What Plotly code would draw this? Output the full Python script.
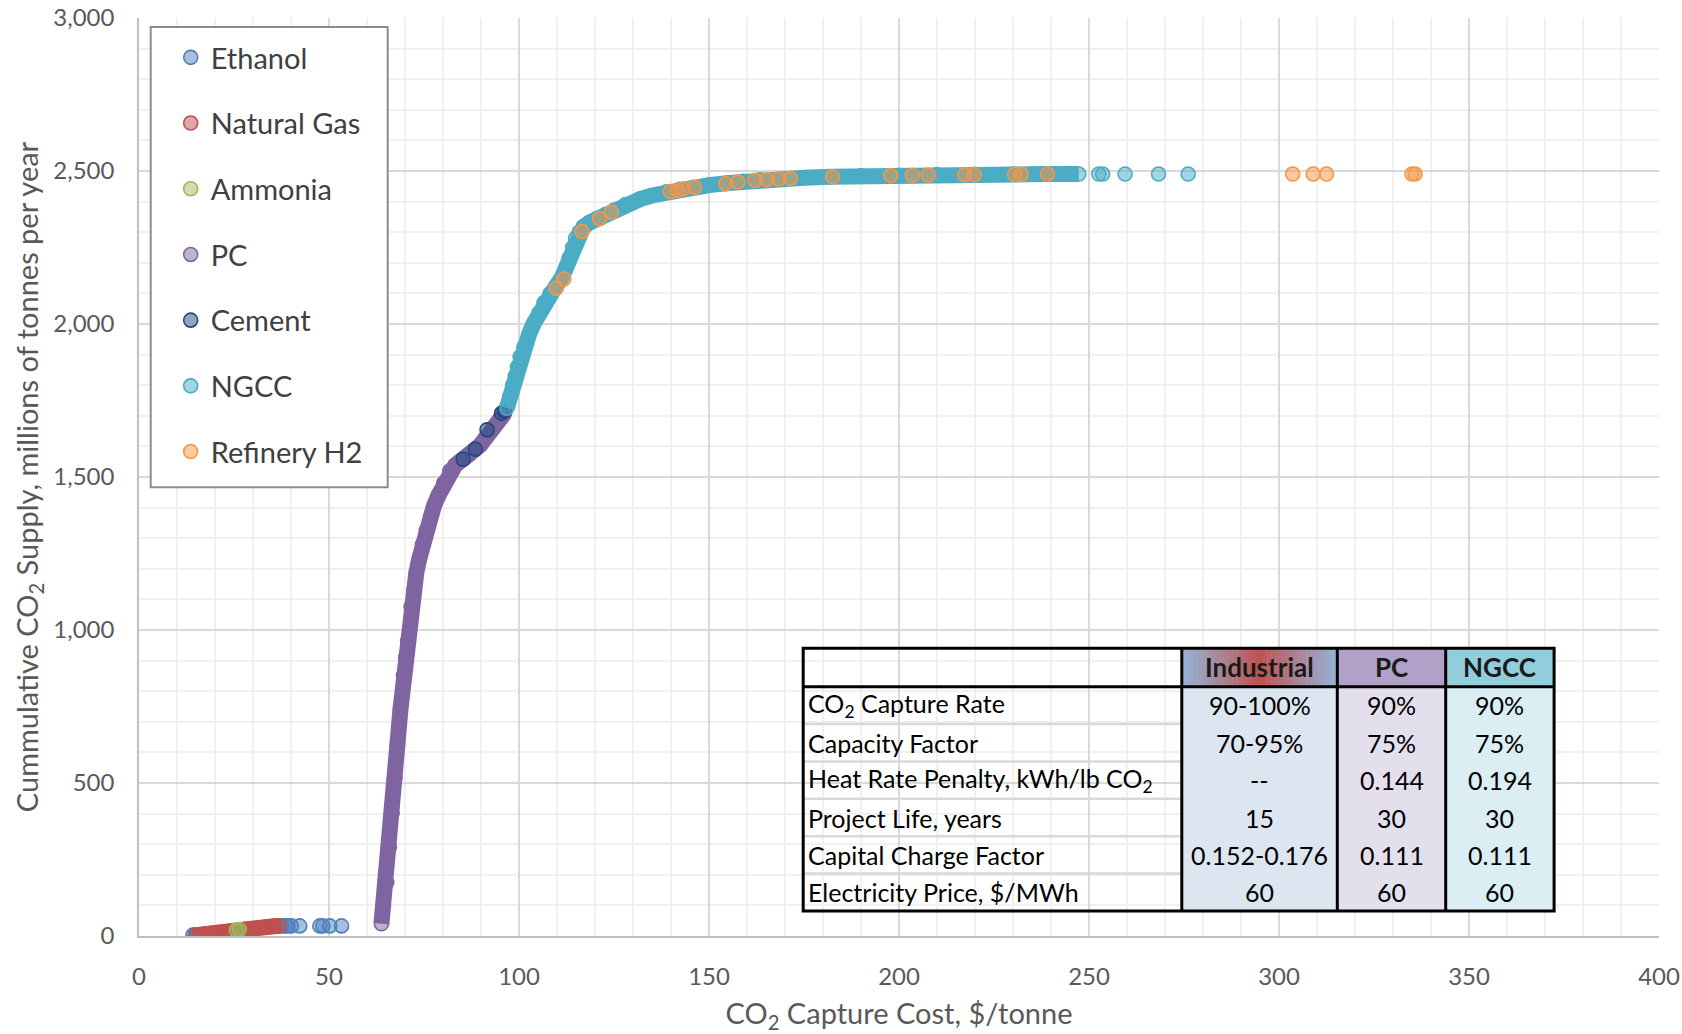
import plotly.graph_objects as go

# ---------------- data ----------------
eth_x = [14.2, 14.8, 15.4, 33.5, 35.0, 36.5, 37.5, 38.5, 39.2, 40.1, 42.3, 47.6, 48.4, 50.2, 53.3]
eth_y = [3, 4, 4, 29, 31, 32, 33, 33, 33, 33, 33, 33, 33, 33, 33]

ng_x = [15.0, 16.0, 17.5, 19.0, 20.5, 22.0, 23.5, 25.0, 26.5, 28.0, 29.5, 31.0, 32.5, 34.0, 35.5, 37.0]
ng_y = [3, 5, 7, 9, 11, 13, 15, 18, 20, 22, 24, 26, 28, 30, 32, 33]

amm_x = [25.6, 26.4]
amm_y = [19, 21]

pc_x = [63.8, 64.3, 65.2, 65.9, 66.6, 67.3, 68.0, 68.8, 69.6, 70.2, 70.7, 71.6, 72.3, 73.0, 73.8,
        74.6, 75.6, 76.7, 77.6, 78.8, 80.2, 81.8, 83.2, 84.6, 85.8, 87.0, 88.3, 89.8, 91.4, 93.2,
        95.0, 96.2]
pc_y = [40, 100, 175, 290, 401, 515, 626, 740, 851, 910, 964, 1076, 1130, 1189, 1235,
        1279, 1325, 1369, 1405, 1440, 1480, 1520, 1538, 1552, 1562, 1574, 1588, 1604, 1630, 1660,
        1690, 1708]

cem_x = [85.3, 88.5, 91.6, 95.4, 96.2]
cem_y = [1558, 1591, 1654, 1708, 1716]

ngcc_x = [96.8, 97.6, 98.3, 99.0, 99.6, 100.3, 101.3, 102.6, 103.8, 105.2, 106.6, 108.2, 109.8,
          111.2, 112.3, 113.2, 114.1, 114.9, 115.8, 117.0, 118.6, 120.5, 122.8, 125.0, 128.0,
          131.8, 135.0, 138.8, 142.3, 145.8, 150.0, 154.6, 159.0, 163.3, 168.6, 175.0, 182.0,
          190.0, 200.0, 210.0, 220.0, 230.0, 238.0, 244.0, 247.3]
ngcc_y = [1725, 1765, 1800, 1830, 1860, 1893, 1925, 1965, 2000, 2035, 2070, 2100, 2125,
          2150, 2180, 2215, 2250, 2280, 2300, 2318, 2332, 2345, 2358, 2372, 2390,
          2408, 2420, 2432, 2440, 2447, 2454, 2460, 2466, 2471, 2474, 2478, 2481,
          2484, 2486, 2488, 2489, 2490, 2490, 2490, 2490]
ngcc_tail_x = [252.6, 253.6, 259.5, 268.3, 276.1]
ngcc_tail_y = [2490, 2490, 2490, 2490, 2490]

ref_x = [109.8, 111.8, 116.6, 121.2, 124.3, 139.8, 141.8, 143.2, 146.2, 154.4, 157.6, 162.1, 165.2,
         168.3, 171.4, 182.5, 197.8, 203.5, 207.7, 217.3, 219.8, 230.4, 232.2, 239.1, 303.6,
         309.0, 312.5, 335.0, 335.8]
ref_y = [2117, 2147, 2302, 2344, 2366, 2433, 2436, 2441, 2447, 2458, 2464, 2470, 2472,
         2474, 2476, 2481, 2485, 2486, 2487, 2488, 2488, 2489, 2489, 2490, 2490,
         2490, 2490, 2490, 2490]

x_ticks = [0, 50, 100, 150, 200, 250, 300, 350, 400]
y_ticks = [0, 500, 1000, 1500, 2000, 2500, 3000]

table_cols = ["Industrial", "PC", "NGCC"]
table_rows = ["CO<sub>2</sub> Capture Rate", "Capacity Factor",
              "Heat Rate Penalty, kWh/lb CO<sub>2</sub>", "Project Life, years",
              "Capital Charge Factor", "Electricity Price, $/MWh"]
table_industrial = ["90-100%", "70-95%", "--", "15", "0.152-0.176", "60"]
table_pc = ["90%", "75%", "0.144", "30", "0.111", "60"]
table_ngcc = ["90%", "75%", "0.194", "30", "0.111", "60"]

# ---------------- styling ----------------
FONT = "Lato"
series = [
    ("Ethanol", eth_x, eth_y, "#4f81bd", "rgba(79,129,189,0.5)", False),
    ("Natural Gas", ng_x, ng_y, "#c0504d", "rgba(192,80,77,0.5)", True),
    ("Ammonia", amm_x, amm_y, "#9bbb59", "rgba(155,187,89,0.5)", False),
    ("PC", pc_x, pc_y, "#8064a2", "rgba(128,100,162,0.5)", True),
    ("Cement", cem_x, cem_y, "#1f497d", "rgba(31,73,125,0.5)", False),
    ("NGCC", ngcc_x, ngcc_y, "#4bacc6", "rgba(75,172,198,0.5)", True),
    ("Refinery H2", ref_x, ref_y, "#f79646", "rgba(247,150,70,0.5)", False),
]

fig = go.Figure()
for name, xs, ys, col, fill, band in series:
    if band:
        fig.add_trace(go.Scatter(x=xs, y=ys, mode="lines", line=dict(color=col, width=16),
                                 legendgroup=name, showlegend=False, hoverinfo="skip"))
    mx, my = list(xs), list(ys)
    if name == "NGCC":
        mx += ngcc_tail_x
        my += ngcc_tail_y
    fig.add_trace(go.Scatter(x=mx, y=my, mode="markers", name=name, legendgroup=name,
                             marker=dict(size=14, color=fill, line=dict(color=col, width=1.6))))

# pixel -> paper helpers (plot area: left 139.3, top 18, 1520 x 917.7)
L, T, W, H = 139.3, 18.0, 1520.0, 917.7
def px(v):
    return (v - L) / W
def py(v):
    return (T + H - v) / H

shapes = []
# legend frame
shapes.append(dict(type="rect", xref="paper", yref="paper", x0=px(151), x1=px(388), y0=py(487), y1=py(27),
                   line=dict(color="#8c8c8c", width=2), fillcolor="white", layer="above"))

# table geometry
tl, tr, tt, th, tb = 803.5, 1554.4, 648.0, 686.5, 910.7
c1, c2, c3 = 1182.1, 1337.6, 1446.0
rh = (tb - th) / 6.0

def hexmix(a, b, t):
    a = [int(a[i:i + 2], 16) for i in (1, 3, 5)]
    b = [int(b[i:i + 2], 16) for i in (1, 3, 5)]
    return "rgb(%d,%d,%d)" % tuple(round(a[k] + (b[k] - a[k]) * t) for k in range(3))

# bodies
shapes.append(dict(type="rect", xref="paper", yref="paper", x0=px(c1), x1=px(c2), y0=py(tb), y1=py(th),
                   line=dict(width=0), fillcolor="#dce6f1", layer="above"))
shapes.append(dict(type="rect", xref="paper", yref="paper", x0=px(c2), x1=px(c3), y0=py(tb), y1=py(th),
                   line=dict(width=0), fillcolor="#e4dfec", layer="above"))
shapes.append(dict(type="rect", xref="paper", yref="paper", x0=px(c3), x1=px(tr), y0=py(tb), y1=py(th),
                   line=dict(width=0), fillcolor="#daeef3", layer="above"))
# headers
N = 40
for i in range(N):
    u0 = i / N
    u1 = (i + 1) / N
    u = (u0 + u1) / 2
    t = min(1.0, abs(2 * u - 1) ** 0.9)
    shapes.append(dict(type="rect", xref="paper", yref="paper",
                       x0=px(c1 + (c2 - c1) * u0), x1=px(c1 + (c2 - c1) * u1 + 0.5),
                       y0=py(th), y1=py(tt), line=dict(width=0),
                       fillcolor=hexmix("#c0504d", "#95b3d7", t), layer="above"))
shapes.append(dict(type="rect", xref="paper", yref="paper", x0=px(c2), x1=px(c3), y0=py(th), y1=py(tt),
                   line=dict(width=0), fillcolor="#b1a0c7", layer="above"))
shapes.append(dict(type="rect", xref="paper", yref="paper", x0=px(c3), x1=px(tr), y0=py(th), y1=py(tt),
                   line=dict(width=0), fillcolor="#92cddc", layer="above"))
# label column row separators
for i in range(1, 6):
    yy = th + rh * i
    shapes.append(dict(type="line", xref="paper", yref="paper", x0=px(tl), x1=px(c1), y0=py(yy), y1=py(yy),
                       line=dict(color="#d9d9d9", width=2.5), layer="above"))
# black borders
for x0 in (c1, c2, c3):
    shapes.append(dict(type="line", xref="paper", yref="paper", x0=px(x0), x1=px(x0), y0=py(tb), y1=py(tt),
                       line=dict(color="black", width=3), layer="above"))
shapes.append(dict(type="line", xref="paper", yref="paper", x0=px(tl), x1=px(tr), y0=py(th), y1=py(th),
                   line=dict(color="black", width=3), layer="above"))
shapes.append(dict(type="rect", xref="paper", yref="paper", x0=px(tl), x1=px(tr), y0=py(tb), y1=py(tt),
                   line=dict(color="black", width=3), layer="above"))

annotations = []
for name, cx in zip(table_cols, [(c1 + c2) / 2, (c2 + c3) / 2, (c3 + tr) / 2]):
    annotations.append(dict(text="<b>%s</b>" % name, xref="paper", yref="paper", x=px(cx), y=py((tt + th) / 2),
                            xanchor="center", yanchor="middle", showarrow=False,
                            font=dict(family=FONT, size=26, color="#1a1a1a")))
for i, lab in enumerate(table_rows):
    yc = th + rh * (i + 0.5)
    annotations.append(dict(text=lab, xref="paper", yref="paper", x=px(tl + 3), y=py(yc),
                            xanchor="left", yanchor="middle", showarrow=False,
                            font=dict(family=FONT, size=25, color="black")))
    for vals, cx in ((table_industrial, (c1 + c2) / 2), (table_pc, (c2 + c3) / 2), (table_ngcc, (c3 + tr) / 2)):
        annotations.append(dict(text=vals[i], xref="paper", yref="paper", x=px(cx), y=py(yc),
                                xanchor="center", yanchor="middle", showarrow=False,
                                font=dict(family=FONT, size=25, color="black")))

fig.update_layout(
    width=1682, height=1034,
    margin=dict(l=139, r=23, t=18, b=98),
    paper_bgcolor="white", plot_bgcolor="white",
    font=dict(family=FONT, color="#595959"),
    shapes=shapes, annotations=annotations,
    legend=dict(x=px(171), y=py(32), xanchor="left", yanchor="top", bgcolor="rgba(0,0,0,0)",
                borderwidth=0, font=dict(family=FONT, size=29, color="#404040"),
                tracegroupgap=25, traceorder="grouped", itemsizing="trace"),
    xaxis=dict(range=[0, 400], tickvals=x_ticks, showgrid=True, gridcolor="#d9d9d9", gridwidth=1.5,
               minor=dict(dtick=10, showgrid=True, gridcolor="#f0f0f0", gridwidth=1.5),
               showline=True, linecolor="#bfbfbf", linewidth=1.5, zeroline=False, ticks="",
               automargin=False,
               tickfont=dict(family=FONT, size=24, color="#595959"), ticklabelstandoff=18,
               title=dict(text="CO<sub>2</sub> Capture Cost, $/tonne", standoff=20,
                          font=dict(family=FONT, size=29, color="#595959"))),
    yaxis=dict(range=[0, 3000], tickvals=y_ticks, tickformat=",d", showgrid=True, gridcolor="#d9d9d9",
               gridwidth=1.5, minor=dict(dtick=100, showgrid=True, gridcolor="#f0f0f0", gridwidth=1.5),
               showline=True, linecolor="#bfbfbf", linewidth=1.5, zeroline=False, ticks="",
               automargin=False,
               tickfont=dict(family=FONT, size=24, color="#595959"), ticklabelstandoff=18,
               title=dict(text="Cummulative CO<sub>2</sub> Supply, millions of tonnes per year", standoff=6,
                          font=dict(family=FONT, size=29, color="#595959"))),
)

fig.write_html("out.html")
